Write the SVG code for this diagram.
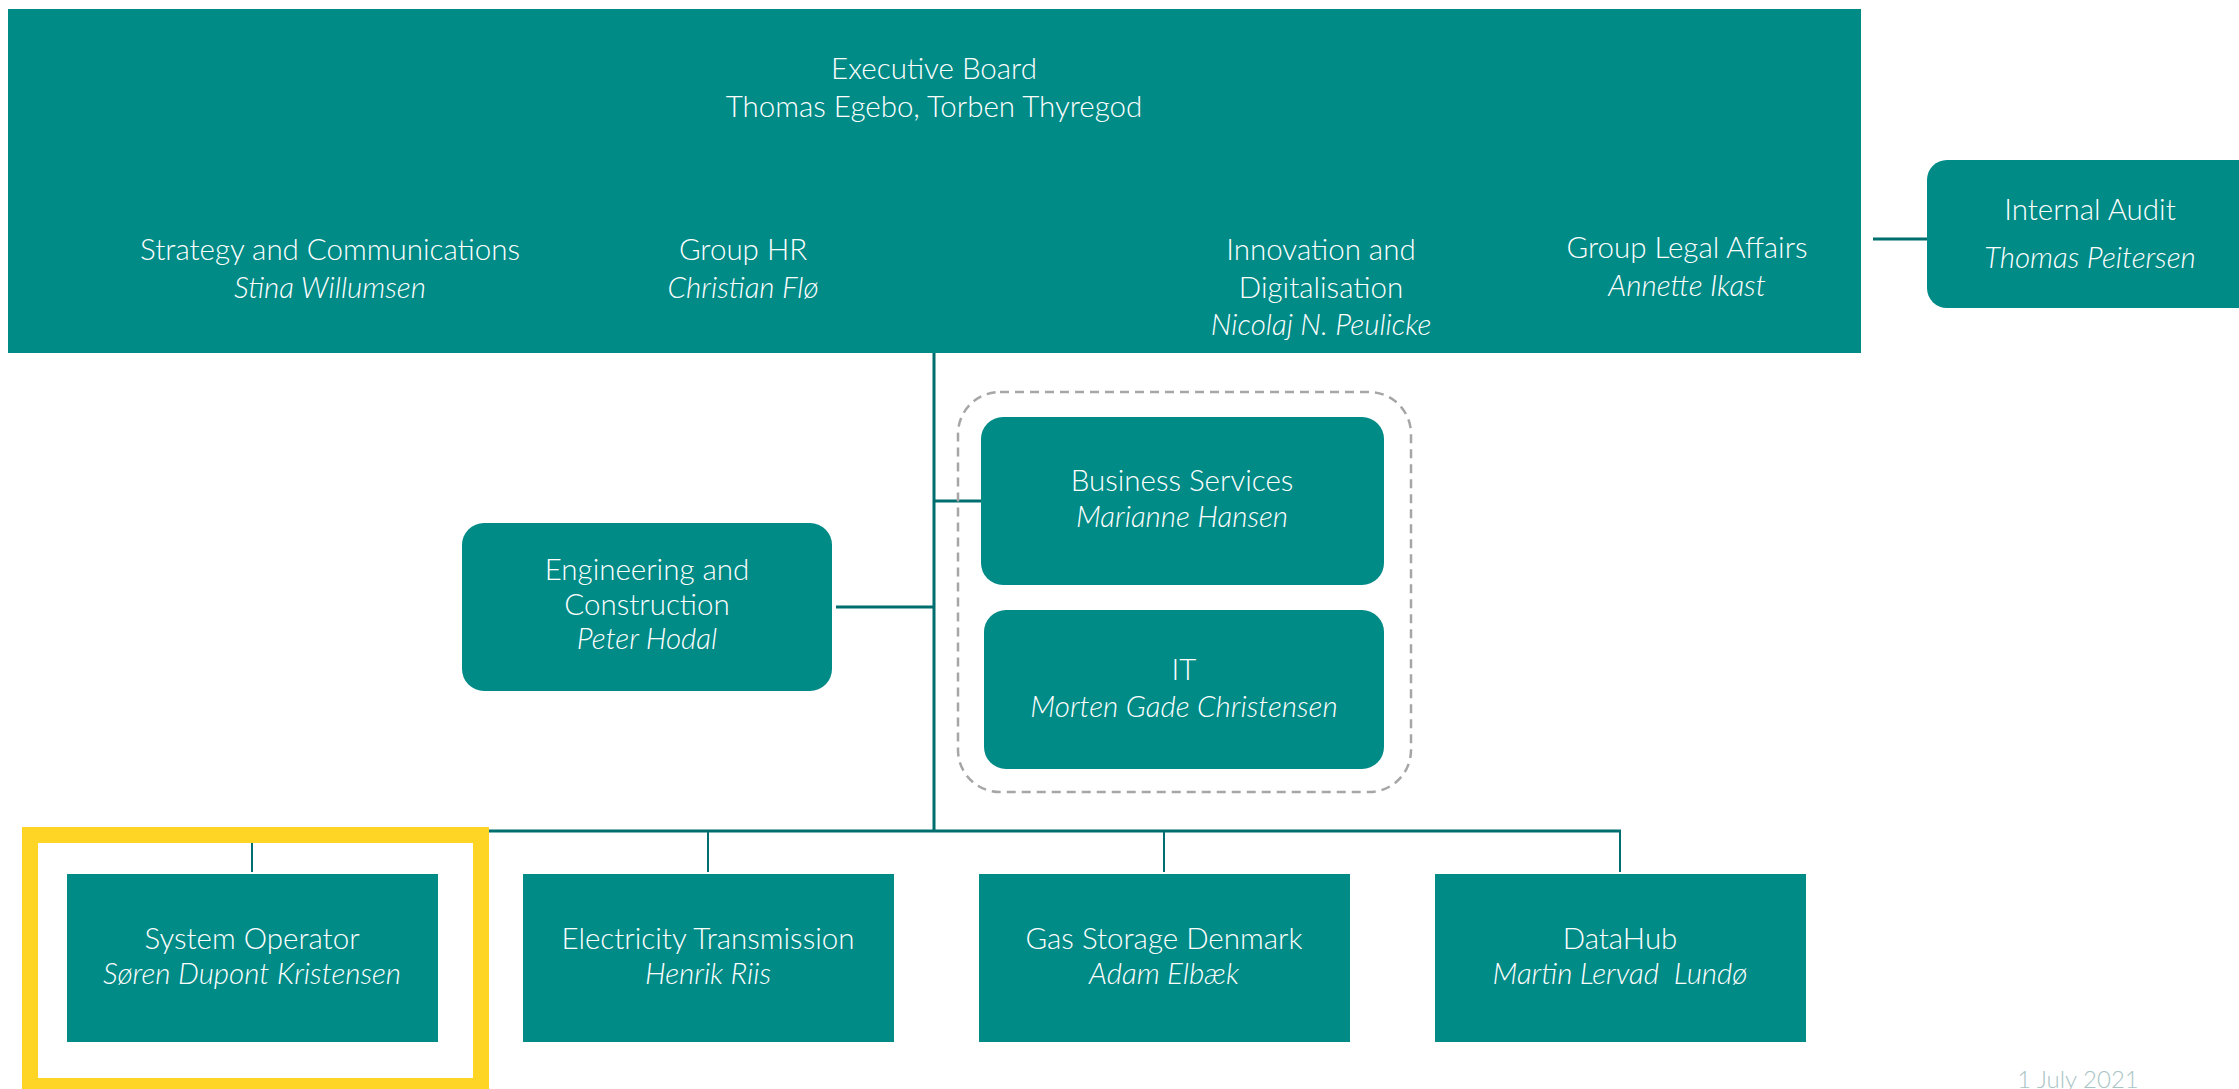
<svg xmlns="http://www.w3.org/2000/svg" width="2239" height="1089" viewBox="0 0 2239 1089">
<style>
.box{fill:#008B87}
.t{font-family:Lato,"Open Sans","Liberation Sans",sans-serif;font-weight:300;font-size:29.5px;fill:#fff;text-anchor:middle}
.i{font-style:italic}
.ln{stroke:#006E6E;stroke-width:3;fill:none}
.st{stroke:#006E6E;stroke-width:2;fill:none}
</style>
<rect x="0" y="0" width="2239" height="1089" fill="#fff"/>
<g id="connectors">
<line class="ln" x1="934" y1="353" x2="934" y2="832"/>
<line class="ln" x1="934" y1="501" x2="981" y2="501"/>
<line class="ln" x1="836" y1="607" x2="934" y2="607"/>
<line class="ln" x1="1873" y1="239" x2="1930" y2="239"/>
<line class="ln" x1="252" y1="831" x2="1621" y2="831"/>
<line class="st" x1="252" y1="831" x2="252" y2="872"/>
<line class="st" x1="708" y1="831" x2="708" y2="872"/>
<line class="st" x1="1164" y1="831" x2="1164" y2="872"/>
<line class="st" x1="1620" y1="831" x2="1620" y2="872"/>
</g>
<g id="executive-board">
<rect class="box" x="8" y="9" width="1853" height="344"/>
<text class="t" x="934" y="79">Executive Board</text>
<text class="t" x="934" y="117">Thomas Egebo, Torben Thyregod</text>
<text class="t" x="330" y="260">Strategy and Communications</text>
<text class="t i" x="330" y="298">Stina Willumsen</text>
<text class="t" x="743" y="260">Group HR</text>
<text class="t i" x="743" y="298">Christian Flø</text>
<text class="t" x="1321" y="260">Innovation and</text>
<text class="t" x="1321" y="298">Digitalisation</text>
<text class="t i" x="1321" y="335">Nicolaj N. Peulicke</text>
<text class="t" x="1687" y="258">Group Legal Affairs</text>
<text class="t i" x="1687" y="296">Annette Ikast</text>
</g>
<g id="internal-audit">
<rect class="box" x="1927" y="160" width="330" height="148" rx="20"/>
<text class="t" x="2090" y="220">Internal Audit</text>
<text class="t i" x="2090" y="268">Thomas Peitersen</text>
</g>
<g id="support-group">
<rect x="958" y="392" width="453" height="400" rx="42" fill="none" stroke="#A6A6A6" stroke-width="2.5" stroke-dasharray="9,6"/>
</g>
<g id="business-services">
<rect class="box" x="981" y="417" width="403" height="168" rx="22"/>
<text class="t" x="1182" y="491">Business Services</text>
<text class="t i" x="1182" y="527">Marianne Hansen</text>
</g>
<g id="it">
<rect class="box" x="984" y="610" width="400" height="159" rx="22"/>
<text class="t" x="1184" y="680">IT</text>
<text class="t i" x="1184" y="717">Morten Gade Christensen</text>
</g>
<g id="engineering">
<rect class="box" x="462" y="523" width="370" height="168" rx="22"/>
<text class="t" x="647" y="580">Engineering and</text>
<text class="t" x="647" y="615">Construction</text>
<text class="t i" x="647" y="649">Peter Hodal</text>
</g>
<g id="system-operator">
<rect class="box" x="67" y="874" width="371" height="168"/>
<text class="t" x="252" y="949">System Operator</text>
<text class="t i" x="252" y="984">Søren Dupont Kristensen</text>
</g>
<g id="highlight">
<rect x="30" y="835" width="451" height="251" fill="none" stroke="#FED524" stroke-width="16"/>
</g>
<g id="electricity-transmission">
<rect class="box" x="523" y="874" width="371" height="168"/>
<text class="t" x="708" y="949">Electricity Transmission</text>
<text class="t i" x="708" y="984">Henrik Riis</text>
</g>
<g id="gas-storage">
<rect class="box" x="979" y="874" width="371" height="168"/>
<text class="t" x="1164" y="949">Gas Storage Denmark</text>
<text class="t i" x="1164" y="984">Adam Elbæk</text>
</g>
<g id="datahub">
<rect class="box" x="1435" y="874" width="371" height="168"/>
<text class="t" x="1620" y="949">DataHub</text>
<text class="t i" x="1620" y="984" xml:space="preserve" style="white-space:pre">Martin Lervad  Lundø</text>
</g>
<text x="2078" y="1088" font-family="Lato,'Open Sans',sans-serif" font-weight="300" font-size="24" fill="#A9C4C4" text-anchor="middle">1 July 2021</text>
</svg>
